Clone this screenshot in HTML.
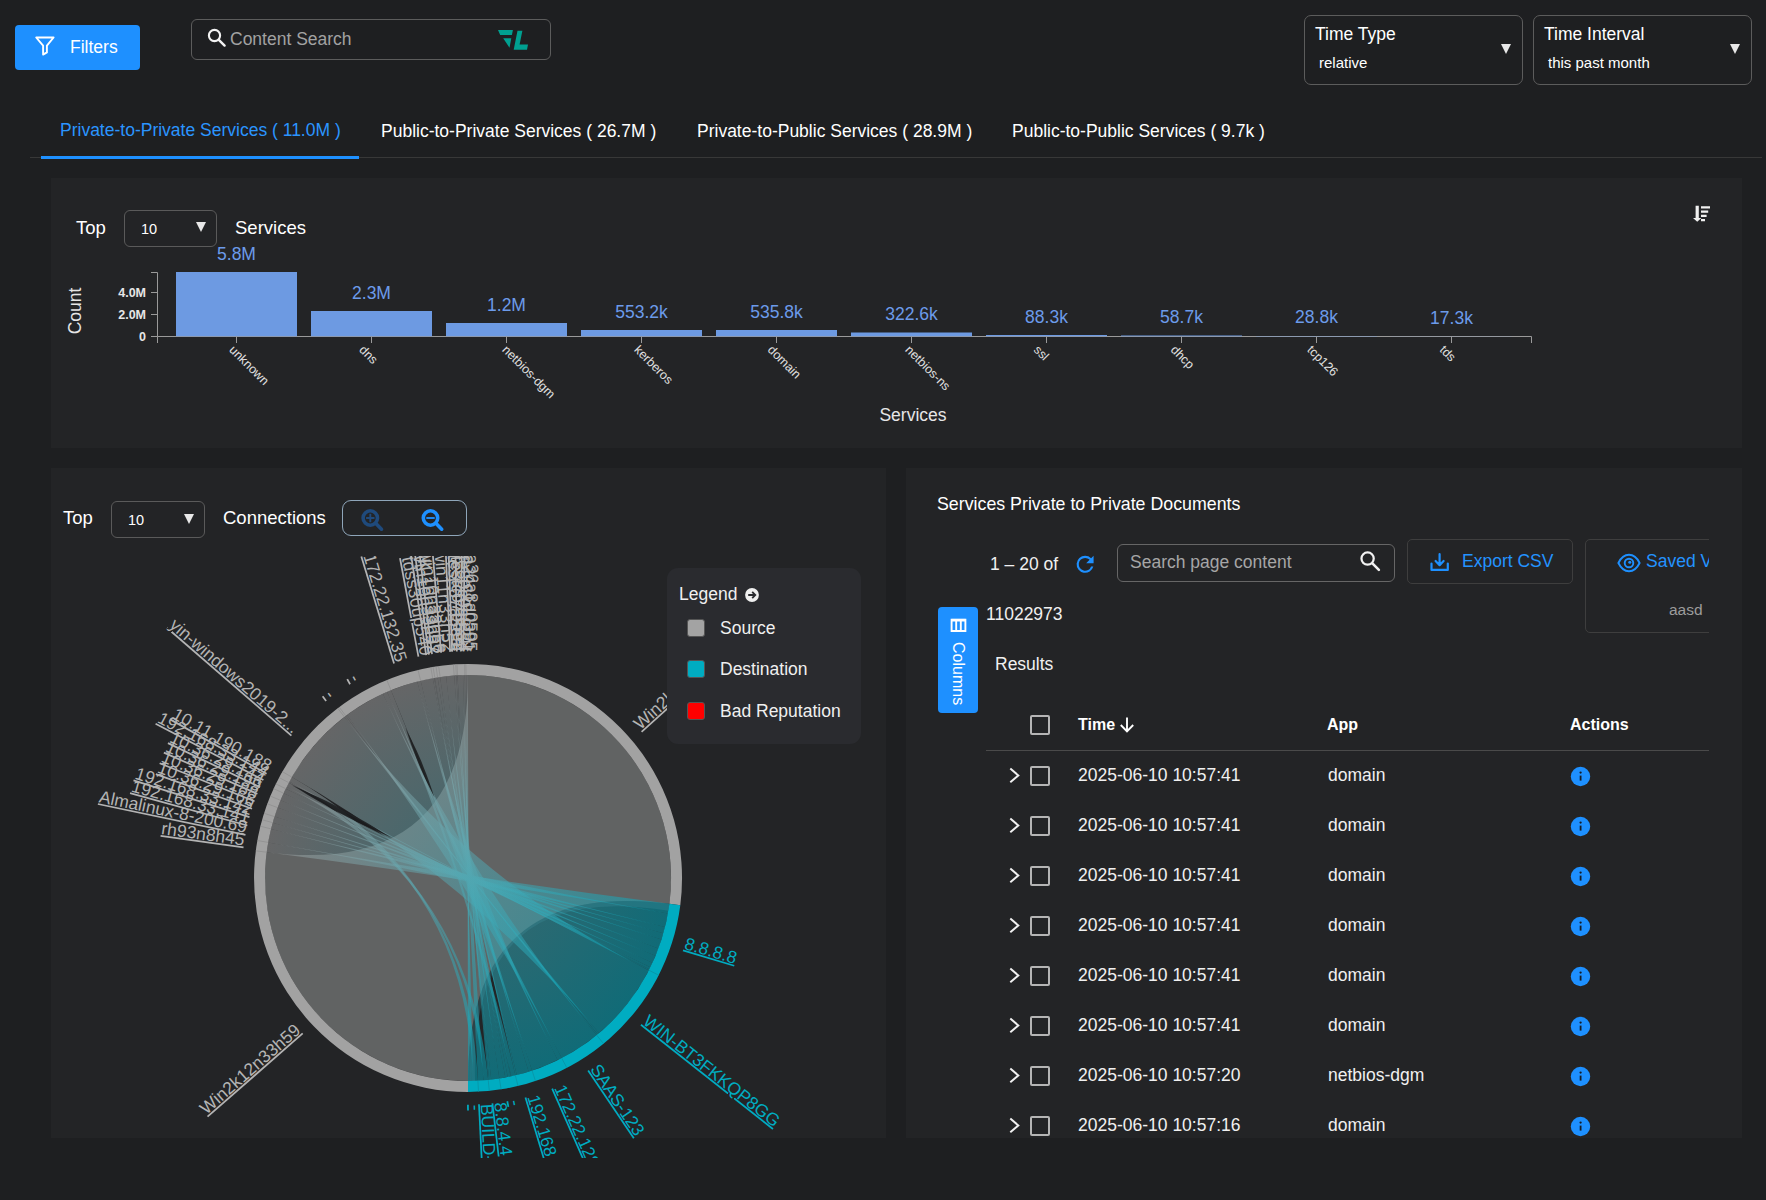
<!DOCTYPE html><html lang="en"><head><meta charset="utf-8"><title>Services</title><style>
*{box-sizing:border-box;margin:0;padding:0}
html,body{width:1766px;height:1200px;overflow:hidden;background:#1e1f21;font-family:"Liberation Sans",Arial,sans-serif;color:#fff}
.abs{position:absolute}
.t{position:absolute;white-space:nowrap;line-height:1}
.card{position:absolute;background:#232426}
.sel{position:absolute;border:1px solid #5a5a5a;border-radius:6px}
.tri{position:absolute;width:0;height:0;border-left:5px solid transparent;border-right:5px solid transparent;border-top:10px solid #e8e8e8}
.cb{position:absolute;width:20px;height:20px;border:2px solid #b5b5b5;border-radius:2px}
svg{position:absolute;overflow:visible}
svg text{font-family:"Liberation Sans",Arial,sans-serif}
</style></head><body>
<div class="abs" style="left:15px;top:25px;width:125px;height:45px;background:#1e90ff;border-radius:4px"></div>
<svg style="left:34px;top:35px" width="22" height="22" viewBox="0 0 22 22"><path d="M2.2 2.5 H19.6 L12.9 10.6 V17.4 L9.1 19.6 V10.6 Z" fill="none" stroke="#fff" stroke-width="1.9" stroke-linejoin="round"/></svg>
<div class="t" style="left:70px;top:39px;font-size:17.5px;color:#fff">Filters</div>
<div class="abs" style="left:191px;top:19px;width:360px;height:41px;border:1px solid #5c5c5c;border-radius:6px"></div>
<svg style="left:205px;top:26px" width="24" height="24" viewBox="0 0 24 24"><circle cx="9.5" cy="9.5" r="5.6" fill="none" stroke="#f2f2f2" stroke-width="2.1"/><path d="M13.8 13.8 L19.6 19.6" stroke="#f2f2f2" stroke-width="2.4" stroke-linecap="round"/></svg>
<div class="t" style="left:230px;top:31px;font-size:17.5px;color:#a2a2a2">Content Search</div>
<svg style="left:0;top:0" width="560" height="70" viewBox="0 0 560 70"><path d="M498 30.1 H512.9 L511.9 35.1 H500.2 Z M503.2 38.2 H511.3 L509.5 47.7 Z M517.5 30.7 H522.4 L519.6 44.6 H528 L527 49.7 H513.7 Z" fill="#00a090"/></svg>
<div class="abs" style="left:1304px;top:15px;width:219px;height:70px;border:1px solid #5c5c5c;border-radius:7px"></div>
<div class="t" style="left:1315px;top:26px;font-size:17.5px">Time Type</div>
<div class="t" style="left:1319px;top:55px;font-size:15px">relative</div>
<div class="tri" style="left:1501px;top:44px"></div>
<div class="abs" style="left:1533px;top:15px;width:219px;height:70px;border:1px solid #5c5c5c;border-radius:7px"></div>
<div class="t" style="left:1544px;top:26px;font-size:17.5px">Time Interval</div>
<div class="t" style="left:1548px;top:55px;font-size:15px">this past month</div>
<div class="tri" style="left:1730px;top:44px"></div>
<div class="abs" style="left:30px;top:157px;width:1732px;height:1px;background:#383838"></div>
<div class="abs" style="left:41px;top:156px;width:318px;height:2.5px;background:#1e90ff"></div>
<div class="t" style="left:60px;top:122px;font-size:17.5px;color:#2b95ff">Private-to-Private Services ( 11.0M )</div>
<div class="t" style="left:381px;top:123px;font-size:17.5px;color:#fff">Public-to-Private Services ( 26.7M )</div>
<div class="t" style="left:697px;top:123px;font-size:17.5px;color:#fff">Private-to-Public Services ( 28.9M )</div>
<div class="t" style="left:1012px;top:123px;font-size:17.5px;color:#fff">Public-to-Public Services ( 9.7k )</div>
<div class="card" style="left:51px;top:178px;width:1691px;height:270px"></div>
<div class="t" style="left:76px;top:219px;font-size:18.5px">Top</div>
<div class="sel" style="left:124px;top:210px;width:93px;height:37px"></div>
<div class="t" style="left:141px;top:222px;font-size:14.5px">10</div>
<div class="tri" style="left:196px;top:222px"></div>
<div class="t" style="left:235px;top:219px;font-size:18.5px">Services</div>
<svg style="left:0;top:0" width="1766" height="240" viewBox="0 0 1766 240"><path d="M1695.6 205.8 H1698.8 V218 H1701.4 L1697.2 221.8 L1693 218 H1695.6 Z M1701 206.2 H1710 V208.4 H1701 Z M1701 210.4 H1708.2 V212.7 H1701 Z M1701 214.7 H1706.6 V217 H1701 Z M1701 218.9 H1705 V221.3 H1701 Z" fill="#f0f0f0"/></svg>
<svg style="left:0;top:0" width="1766" height="460" viewBox="0 0 1766 460"><path d="M151 272.5 H157.5 V336.5 H151 M157.5 336.5 V343 M157.5 336.5 H1531.5 V343" fill="none" stroke="#9a9a9a" stroke-width="1"/><path d="M151 292.5 H157" stroke="#9a9a9a"/><text x="146" y="296.5" font-size="12.5" font-weight="bold" fill="#e6e6e6" text-anchor="end">4.0M</text><path d="M151 314.5 H157" stroke="#9a9a9a"/><text x="146" y="318.5" font-size="12.5" font-weight="bold" fill="#e6e6e6" text-anchor="end">2.0M</text><path d="M151 336.5 H157" stroke="#9a9a9a"/><text x="146" y="340.5" font-size="12.5" font-weight="bold" fill="#e6e6e6" text-anchor="end">0</text><text transform="translate(80.5,311) rotate(-90)" font-size="17.5" fill="#e6e6e6" text-anchor="middle">Count</text><text x="913" y="421" font-size="17.5" fill="#e6e6e6" text-anchor="middle">Services</text><rect x="176" y="272" width="121" height="64.30000000000001" fill="#6d9ae2"/><path d="M236.5 336.5 V343" stroke="#9a9a9a"/><text x="236.5" y="260" font-size="17.5" fill="#6c9bea" text-anchor="middle">5.8M</text><text transform="translate(228.5,350.5) rotate(45)" font-size="12.5" fill="#e0e0e0">unknown</text><rect x="311" y="311" width="121" height="25.30000000000001" fill="#6d9ae2"/><path d="M371.5 336.5 V343" stroke="#9a9a9a"/><text x="371.5" y="299" font-size="17.5" fill="#6c9bea" text-anchor="middle">2.3M</text><text transform="translate(358.5,350.5) rotate(45)" font-size="12.5" fill="#e0e0e0">dns</text><rect x="446" y="323" width="121" height="13.300000000000011" fill="#6d9ae2"/><path d="M506.5 336.5 V343" stroke="#9a9a9a"/><text x="506.5" y="311" font-size="17.5" fill="#6c9bea" text-anchor="middle">1.2M</text><text transform="translate(501.5,350.5) rotate(45)" font-size="12.5" fill="#e0e0e0">netbios-dgm</text><rect x="581" y="330" width="121" height="6.300000000000011" fill="#6d9ae2"/><path d="M641.5 336.5 V343" stroke="#9a9a9a"/><text x="641.5" y="318" font-size="17.5" fill="#6c9bea" text-anchor="middle">553.2k</text><text transform="translate(633.5,350.5) rotate(45)" font-size="12.5" fill="#e0e0e0">kerberos</text><rect x="716" y="330" width="121" height="6.300000000000011" fill="#6d9ae2"/><path d="M776.5 336.5 V343" stroke="#9a9a9a"/><text x="776.5" y="318" font-size="17.5" fill="#6c9bea" text-anchor="middle">535.8k</text><text transform="translate(767.0,350.5) rotate(45)" font-size="12.5" fill="#e0e0e0">domain</text><rect x="851" y="332.5" width="121" height="3.8000000000000114" fill="#6d9ae2"/><path d="M911.5 336.5 V343" stroke="#9a9a9a"/><text x="911.5" y="320" font-size="17.5" fill="#6c9bea" text-anchor="middle">322.6k</text><text transform="translate(904.5,350.5) rotate(45)" font-size="12.5" fill="#e0e0e0">netbios-ns</text><rect x="986" y="335" width="121" height="1.3000000000000114" fill="#6d9ae2"/><path d="M1046.5 336.5 V343" stroke="#9a9a9a"/><text x="1046.5" y="323" font-size="17.5" fill="#6c9bea" text-anchor="middle">88.3k</text><text transform="translate(1033.0,350.5) rotate(45)" font-size="12.5" fill="#e0e0e0">ssl</text><rect x="1121" y="335.5" width="121" height="0.8000000000000114" fill="#6d9ae2"/><path d="M1181.5 336.5 V343" stroke="#9a9a9a"/><text x="1181.5" y="323" font-size="17.5" fill="#6c9bea" text-anchor="middle">58.7k</text><text transform="translate(1170.0,350.5) rotate(45)" font-size="12.5" fill="#e0e0e0">dhcp</text><rect x="1256" y="336" width="121" height="0.30000000000001137" fill="#6d9ae2"/><path d="M1316.5 336.5 V343" stroke="#9a9a9a"/><text x="1316.5" y="323" font-size="17.5" fill="#6c9bea" text-anchor="middle">28.8k</text><text transform="translate(1306.5,350.5) rotate(45)" font-size="12.5" fill="#e0e0e0">tcp126</text><rect x="1391" y="336.2" width="121" height="0.10000000000002274" fill="#6d9ae2"/><path d="M1451.5 336.5 V343" stroke="#9a9a9a"/><text x="1451.5" y="324" font-size="17.5" fill="#6c9bea" text-anchor="middle">17.3k</text><text transform="translate(1439.0,350.5) rotate(45)" font-size="12.5" fill="#e0e0e0">tds</text></svg>
<div class="card" style="left:51px;top:468px;width:835px;height:670px"></div>
<div class="t" style="left:63px;top:509px;font-size:18.5px">Top</div>
<div class="sel" style="left:111px;top:501px;width:94px;height:37px"></div>
<div class="t" style="left:128px;top:513px;font-size:14.5px">10</div>
<div class="tri" style="left:184px;top:514px"></div>
<div class="t" style="left:223px;top:509px;font-size:18.5px">Connections</div>
<div class="abs" style="left:342px;top:500px;width:125px;height:36px;border:1px solid #8fa6ba;border-radius:9px"></div>
<svg style="left:0;top:0" width="500" height="560" viewBox="0 0 500 560"><circle cx="370.3" cy="518" r="7.2" fill="none" stroke="#1f4a7c" stroke-width="3.6"/><path d="M375.90000000000003 523.6 L381.5 529.2" stroke="#1f4a7c" stroke-width="3.6" stroke-linecap="round"/><path d="M366.1 518 H374.5 M370.3 513.8 V522.2" stroke="#1f4a7c" stroke-width="1.9"/></svg>
<svg style="left:0;top:0" width="500" height="560" viewBox="0 0 500 560"><circle cx="430.5" cy="518" r="7.2" fill="none" stroke="#1e90ff" stroke-width="3.6"/><path d="M436.1 523.6 L441.7 529.2" stroke="#1e90ff" stroke-width="3.6" stroke-linecap="round"/><path d="M426.3 518 H434.7" stroke="#1e90ff" stroke-width="1.9"/></svg>
<svg style="left:0;top:0" width="1766" height="1200" viewBox="0 0 1766 1200"><defs><clipPath id="cclip"><rect x="51" y="556" width="835" height="602"/></clipPath><linearGradient id="gd" gradientUnits="userSpaceOnUse" x1="332.2" y1="727.1" x2="603.8" y2="1028.9"><stop offset="0" stop-color="#a2a2a2"/><stop offset="1" stop-color="#00acc1"/></linearGradient><linearGradient id="gs" gradientUnits="userSpaceOnUse" x1="332.2" y1="727.1" x2="603.8" y2="1028.9"><stop offset="0" stop-color="#b8c4c6"/><stop offset="0.5" stop-color="#4fb7c8"/><stop offset="1" stop-color="#19b4c9"/></linearGradient></defs><g clip-path="url(#cclip)"><path d="M468 675A203 203 0 0 1 669.4 903.8Q468 878 468 1081A203 203 0 0 1 266.6 852.2Q468 878 468 675Z" fill="#9fa2a0" fill-opacity="0.5"/><defs><linearGradient id="g0" gradientUnits="userSpaceOnUse" x1="267.3" y1="847.3" x2="662" y2="937.9"><stop offset="0" stop-color="#a2a2a2"/><stop offset="1" stop-color="#00acc1"/></linearGradient><linearGradient id="g1" gradientUnits="userSpaceOnUse" x1="269.5" y1="835.6" x2="662" y2="937.9"><stop offset="0" stop-color="#a2a2a2"/><stop offset="1" stop-color="#00acc1"/></linearGradient><linearGradient id="g2" gradientUnits="userSpaceOnUse" x1="271.8" y1="825.8" x2="662" y2="937.9"><stop offset="0" stop-color="#a2a2a2"/><stop offset="1" stop-color="#00acc1"/></linearGradient><linearGradient id="g3" gradientUnits="userSpaceOnUse" x1="273.6" y1="819.7" x2="662" y2="937.9"><stop offset="0" stop-color="#a2a2a2"/><stop offset="1" stop-color="#00acc1"/></linearGradient><linearGradient id="g4" gradientUnits="userSpaceOnUse" x1="276" y1="812.1" x2="662" y2="937.9"><stop offset="0" stop-color="#a2a2a2"/><stop offset="1" stop-color="#00acc1"/></linearGradient><linearGradient id="g5" gradientUnits="userSpaceOnUse" x1="279" y1="803.9" x2="662" y2="937.9"><stop offset="0" stop-color="#a2a2a2"/><stop offset="1" stop-color="#00acc1"/></linearGradient><linearGradient id="g6" gradientUnits="userSpaceOnUse" x1="282" y1="796.7" x2="662" y2="937.9"><stop offset="0" stop-color="#a2a2a2"/><stop offset="1" stop-color="#00acc1"/></linearGradient><linearGradient id="g7" gradientUnits="userSpaceOnUse" x1="284.6" y1="790.9" x2="662" y2="937.9"><stop offset="0" stop-color="#a2a2a2"/><stop offset="1" stop-color="#00acc1"/></linearGradient><linearGradient id="g8" gradientUnits="userSpaceOnUse" x1="287.2" y1="785.7" x2="662" y2="937.9"><stop offset="0" stop-color="#a2a2a2"/><stop offset="1" stop-color="#00acc1"/></linearGradient><linearGradient id="g9" gradientUnits="userSpaceOnUse" x1="287.2" y1="785.7" x2="483" y2="1080.4"><stop offset="0" stop-color="#a2a2a2"/><stop offset="1" stop-color="#00acc1"/></linearGradient><linearGradient id="g10" gradientUnits="userSpaceOnUse" x1="290.3" y1="779.9" x2="662" y2="937.9"><stop offset="0" stop-color="#a2a2a2"/><stop offset="1" stop-color="#00acc1"/></linearGradient><linearGradient id="g11" gradientUnits="userSpaceOnUse" x1="290.3" y1="779.9" x2="626.1" y2="1005.3"><stop offset="0" stop-color="#a2a2a2"/><stop offset="1" stop-color="#00acc1"/></linearGradient><linearGradient id="g12" gradientUnits="userSpaceOnUse" x1="290.3" y1="779.9" x2="473" y2="1080.9"><stop offset="0" stop-color="#a2a2a2"/><stop offset="1" stop-color="#00acc1"/></linearGradient><linearGradient id="g13" gradientUnits="userSpaceOnUse" x1="315.1" y1="744.4" x2="626.1" y2="1005.3"><stop offset="0" stop-color="#a2a2a2"/><stop offset="1" stop-color="#00acc1"/></linearGradient><linearGradient id="g14" gradientUnits="userSpaceOnUse" x1="345.1" y1="716.4" x2="626.1" y2="1005.3"><stop offset="0" stop-color="#a2a2a2"/><stop offset="1" stop-color="#00acc1"/></linearGradient><linearGradient id="g15" gradientUnits="userSpaceOnUse" x1="367.6" y1="701.6" x2="626.1" y2="1005.3"><stop offset="0" stop-color="#a2a2a2"/><stop offset="1" stop-color="#00acc1"/></linearGradient><linearGradient id="g16" gradientUnits="userSpaceOnUse" x1="367.6" y1="701.6" x2="579.7" y2="1047.5"><stop offset="0" stop-color="#a2a2a2"/><stop offset="1" stop-color="#00acc1"/></linearGradient><linearGradient id="g17" gradientUnits="userSpaceOnUse" x1="367.6" y1="701.6" x2="547.2" y2="1064.9"><stop offset="0" stop-color="#a2a2a2"/><stop offset="1" stop-color="#00acc1"/></linearGradient><linearGradient id="g18" gradientUnits="userSpaceOnUse" x1="367.6" y1="701.6" x2="507.4" y2="1077.1"><stop offset="0" stop-color="#a2a2a2"/><stop offset="1" stop-color="#00acc1"/></linearGradient><linearGradient id="g19" gradientUnits="userSpaceOnUse" x1="405.6" y1="684.8" x2="547.2" y2="1064.9"><stop offset="0" stop-color="#a2a2a2"/><stop offset="1" stop-color="#00acc1"/></linearGradient><linearGradient id="g20" gradientUnits="userSpaceOnUse" x1="405.6" y1="684.8" x2="523.8" y2="1073.2"><stop offset="0" stop-color="#a2a2a2"/><stop offset="1" stop-color="#00acc1"/></linearGradient><linearGradient id="g21" gradientUnits="userSpaceOnUse" x1="426.7" y1="679.3" x2="523.8" y2="1073.2"><stop offset="0" stop-color="#a2a2a2"/><stop offset="1" stop-color="#00acc1"/></linearGradient><linearGradient id="g22" gradientUnits="userSpaceOnUse" x1="433.8" y1="677.9" x2="523.8" y2="1073.2"><stop offset="0" stop-color="#a2a2a2"/><stop offset="1" stop-color="#00acc1"/></linearGradient><linearGradient id="g23" gradientUnits="userSpaceOnUse" x1="433.8" y1="677.9" x2="507.4" y2="1077.1"><stop offset="0" stop-color="#a2a2a2"/><stop offset="1" stop-color="#00acc1"/></linearGradient><linearGradient id="g24" gradientUnits="userSpaceOnUse" x1="436.2" y1="677.5" x2="507.4" y2="1077.1"><stop offset="0" stop-color="#a2a2a2"/><stop offset="1" stop-color="#00acc1"/></linearGradient><linearGradient id="g25" gradientUnits="userSpaceOnUse" x1="438.9" y1="677.1" x2="507.4" y2="1077.1"><stop offset="0" stop-color="#a2a2a2"/><stop offset="1" stop-color="#00acc1"/></linearGradient><linearGradient id="g26" gradientUnits="userSpaceOnUse" x1="447.1" y1="676.1" x2="507.4" y2="1077.1"><stop offset="0" stop-color="#a2a2a2"/><stop offset="1" stop-color="#00acc1"/></linearGradient><linearGradient id="g27" gradientUnits="userSpaceOnUse" x1="447.1" y1="676.1" x2="493.8" y2="1079.4"><stop offset="0" stop-color="#a2a2a2"/><stop offset="1" stop-color="#00acc1"/></linearGradient><linearGradient id="g28" gradientUnits="userSpaceOnUse" x1="455.3" y1="675.4" x2="493.8" y2="1079.4"><stop offset="0" stop-color="#a2a2a2"/><stop offset="1" stop-color="#00acc1"/></linearGradient><linearGradient id="g29" gradientUnits="userSpaceOnUse" x1="456.9" y1="675.3" x2="493.8" y2="1079.4"><stop offset="0" stop-color="#a2a2a2"/><stop offset="1" stop-color="#00acc1"/></linearGradient><linearGradient id="g30" gradientUnits="userSpaceOnUse" x1="456.9" y1="675.3" x2="483" y2="1080.4"><stop offset="0" stop-color="#a2a2a2"/><stop offset="1" stop-color="#00acc1"/></linearGradient><linearGradient id="g31" gradientUnits="userSpaceOnUse" x1="461.2" y1="675.1" x2="483" y2="1080.4"><stop offset="0" stop-color="#a2a2a2"/><stop offset="1" stop-color="#00acc1"/></linearGradient><linearGradient id="g32" gradientUnits="userSpaceOnUse" x1="461.2" y1="675.1" x2="473" y2="1080.9"><stop offset="0" stop-color="#a2a2a2"/><stop offset="1" stop-color="#00acc1"/></linearGradient><linearGradient id="g33" gradientUnits="userSpaceOnUse" x1="465.4" y1="675" x2="473" y2="1080.9"><stop offset="0" stop-color="#a2a2a2"/><stop offset="1" stop-color="#00acc1"/></linearGradient><linearGradient id="g34" gradientUnits="userSpaceOnUse" x1="467" y1="675" x2="473" y2="1080.9"><stop offset="0" stop-color="#a2a2a2"/><stop offset="1" stop-color="#00acc1"/></linearGradient></defs><path d="M266.6 852.2A203 203 0 0 1 268.1 842.4Q468 878 669.4 903.8A203 203 0 0 1 667.9 913.6Q468 878 266.6 852.2Z" fill="url(#g0)" fill-opacity="0.52"/><path d="M268.1 842.4A203 203 0 0 1 271 828.9Q468 878 667.9 913.6A203 203 0 0 1 665 927.1Q468 878 268.1 842.4Z" fill="url(#g1)" fill-opacity="0.52"/><path d="M271 828.9A203 203 0 0 1 272.7 822.7Q468 878 665 927.1A203 203 0 0 1 663.3 933.3Q468 878 271 828.9Z" fill="url(#g2)" fill-opacity="0.52"/><path d="M272.7 822.7A203 203 0 0 1 274.5 816.6Q468 878 663.3 933.3A203 203 0 0 1 661.5 939.4Q468 878 272.7 822.7Z" fill="url(#g3)" fill-opacity="0.52"/><path d="M274.5 816.6A203 203 0 0 1 277.6 807.6Q468 878 661.5 939.4A203 203 0 0 1 658.4 948.4Q468 878 274.5 816.6Z" fill="url(#g4)" fill-opacity="0.52"/><path d="M277.6 807.6A203 203 0 0 1 280.5 800.3Q468 878 658.4 948.4A203 203 0 0 1 655.5 955.7Q468 878 277.6 807.6Z" fill="url(#g5)" fill-opacity="0.52"/><path d="M280.5 800.3A203 203 0 0 1 283.6 793.2Q468 878 655.5 955.7A203 203 0 0 1 652.4 962.8Q468 878 280.5 800.3Z" fill="url(#g6)" fill-opacity="0.52"/><path d="M283.6 793.2A203 203 0 0 1 285.7 788.7Q468 878 652.4 962.8A203 203 0 0 1 650.3 967.3Q468 878 283.6 793.2Z" fill="url(#g7)" fill-opacity="0.52"/><path d="M285.7 788.7A203 203 0 0 1 286.6 786.8Q468 878 650.3 967.3A203 203 0 0 1 649.4 969.2Q468 878 285.7 788.7Z" fill="url(#g8)" fill-opacity="0.52"/><path d="M286.6 786.8A203 203 0 0 1 288.8 782.7Q468 878 488.2 1080A203 203 0 0 1 483.6 1080.4Q468 878 286.6 786.8Z" fill="url(#g9)" fill-opacity="0.52"/><path d="M288.8 782.7A203 203 0 0 1 289.3 781.8Q468 878 649.4 969.2A203 203 0 0 1 648.9 970.2Q468 878 288.8 782.7Z" fill="url(#g10)" fill-opacity="0.52"/><path d="M289.3 781.8A203 203 0 0 1 289.4 781.4Q468 878 648.9 970.2A203 203 0 0 1 648.7 970.5Q468 878 289.3 781.8Z" fill="url(#g11)" fill-opacity="0.52"/><path d="M289.4 781.4A203 203 0 0 1 291.8 777.1Q468 878 477.9 1080.8A203 203 0 0 1 473 1080.9Q468 878 289.4 781.4Z" fill="url(#g12)" fill-opacity="0.52"/><path d="M291.8 777.1A203 203 0 0 1 344.4 716.9Q468 878 648.7 970.5A203 203 0 0 1 599 1033.1Q468 878 291.8 777.1Z" fill="url(#g13)" fill-opacity="0.52"/><path d="M344.4 716.9A203 203 0 0 1 345.8 715.9Q468 878 599 1033.1A203 203 0 0 1 597.7 1034.2Q468 878 344.4 716.9Z" fill="url(#g14)" fill-opacity="0.52"/><path d="M345.8 715.9A203 203 0 0 1 347 715Q468 878 597.7 1034.2A203 203 0 0 1 596.6 1035.1Q468 878 345.8 715.9Z" fill="url(#g15)" fill-opacity="0.52"/><path d="M347 715A203 203 0 0 1 382.9 693.7Q468 878 596.6 1035.1A203 203 0 0 1 561.7 1058.1Q468 878 347 715Z" fill="url(#g16)" fill-opacity="0.52"/><path d="M382.9 693.7A203 203 0 0 1 387.1 691.8Q468 878 561.7 1058.1A203 203 0 0 1 557.6 1060.1Q468 878 382.9 693.7Z" fill="url(#g17)" fill-opacity="0.52"/><path d="M387.1 691.8A203 203 0 0 1 391 690.2Q468 878 515.4 1075.4A203 203 0 0 1 511.2 1076.3Q468 878 387.1 691.8Z" fill="url(#g18)" fill-opacity="0.52"/><path d="M391 690.2A203 203 0 0 1 417.2 681.5Q468 878 557.6 1060.1A203 203 0 0 1 532.1 1070.6Q468 878 391 690.2Z" fill="url(#g19)" fill-opacity="0.52"/><path d="M417.2 681.5A203 203 0 0 1 420.6 680.6Q468 878 532.1 1070.6A203 203 0 0 1 528.7 1071.7Q468 878 417.2 681.5Z" fill="url(#g20)" fill-opacity="0.52"/><path d="M420.6 680.6A203 203 0 0 1 432.7 678.1Q468 878 528.7 1071.7A203 203 0 0 1 516.8 1075.1Q468 878 420.6 680.6Z" fill="url(#g21)" fill-opacity="0.52"/><path d="M432.7 678.1A203 203 0 0 1 434.1 677.8Q468 878 516.8 1075.1A203 203 0 0 1 515.4 1075.4Q468 878 432.7 678.1Z" fill="url(#g22)" fill-opacity="0.52"/><path d="M434.1 677.8A203 203 0 0 1 434.8 677.7Q468 878 511.2 1076.3A203 203 0 0 1 510.6 1076.5Q468 878 434.1 677.8Z" fill="url(#g23)" fill-opacity="0.52"/><path d="M434.8 677.7A203 203 0 0 1 437.6 677.3Q468 878 510.6 1076.5A203 203 0 0 1 507.8 1077.1Q468 878 434.8 677.7Z" fill="url(#g24)" fill-opacity="0.52"/><path d="M437.6 677.3A203 203 0 0 1 440.1 676.9Q468 878 507.8 1077.1A203 203 0 0 1 505.3 1077.5Q468 878 437.6 677.3Z" fill="url(#g25)" fill-opacity="0.52"/><path d="M440.1 676.9A203 203 0 0 1 446.1 676.2Q468 878 505.3 1077.5A203 203 0 0 1 499.4 1078.6Q468 878 440.1 676.9Z" fill="url(#g26)" fill-opacity="0.52"/><path d="M446.1 676.2A203 203 0 0 1 454.2 675.5Q468 878 499.4 1078.6A203 203 0 0 1 491.3 1079.7Q468 878 446.1 676.2Z" fill="url(#g27)" fill-opacity="0.52"/><path d="M454.2 675.5A203 203 0 0 1 456.3 675.3Q468 878 491.3 1079.7A203 203 0 0 1 489.2 1079.9Q468 878 454.2 675.5Z" fill="url(#g28)" fill-opacity="0.52"/><path d="M456.3 675.3A203 203 0 0 1 457.4 675.3Q468 878 489.2 1079.9A203 203 0 0 1 488.2 1080Q468 878 456.3 675.3Z" fill="url(#g29)" fill-opacity="0.52"/><path d="M457.4 675.3A203 203 0 0 1 457.6 675.3Q468 878 483.6 1080.4A203 203 0 0 1 483.4 1080.4Q468 878 457.4 675.3Z" fill="url(#g30)" fill-opacity="0.52"/><path d="M457.6 675.3A203 203 0 0 1 463 675.1Q468 878 483.4 1080.4A203 203 0 0 1 477.9 1080.8Q468 878 457.6 675.3Z" fill="url(#g31)" fill-opacity="0.52"/><path d="M463 675.1A203 203 0 0 1 464.8 675Q468 878 473 1080.9A203 203 0 0 1 471.2 1081Q468 878 463 675.1Z" fill="url(#g32)" fill-opacity="0.52"/><path d="M464.8 675A203 203 0 0 1 466.1 675Q468 878 471.2 1081A203 203 0 0 1 469.9 1081Q468 878 464.8 675Z" fill="url(#g33)" fill-opacity="0.52"/><path d="M466.1 675A203 203 0 0 1 468 675Q468 878 469.9 1081A203 203 0 0 1 468 1081Q468 878 466.1 675Z" fill="url(#g34)" fill-opacity="0.52"/><path d="M669.4 903.8A203 203 0 0 1 668.3 910.8Q468 878 475.1 1080.9A203 203 0 0 1 468 1081Q468 878 669.4 903.8Z" fill="#3f8f9c" fill-opacity="0.3"/><path d="M292 785.2L300 790.1L307.9 794.9L316 799.7L324 804.3L332.1 808.9L340.3 813.3L348.6 817.6L356.9 821.7L365.3 825.7L373.8 829.6L382.3 833.5L390.8 837.3L390.8 837.3L382.8 832.4L374.9 827.6L366.9 822.8L358.8 818.2L350.7 813.6L342.5 809.2L334.2 804.9L325.9 800.8L317.5 796.8L309 792.9L300.5 789L292 785.2Z" fill="#1b1c1e" fill-opacity="0.9"/><path d="M405.6 728.1L407.6 734L409.6 740L411.7 745.9L413.9 751.8L416.1 757.6L418.5 763.4L420.9 769.2L423.5 774.9L426.1 780.5L428.9 786.2L431.6 791.8L434.5 797.4L434.5 797.4L432.5 791.5L430.4 785.5L428.3 779.6L426.2 773.7L423.9 767.9L421.6 762.1L419.1 756.3L416.6 750.6L413.9 744.9L411.2 739.3L408.4 733.7L405.6 728.1Z" fill="#1b1c1e" fill-opacity="0.88"/><path d="M468 1092A214 214 0 1 1 680.3 905.2L669.4 903.8A203 203 0 1 0 468 1081Z" fill="#a2a2a2"/><path d="M680.3 905.2A214 214 0 0 1 468 1092L468 1081A203 203 0 0 0 669.4 903.8Z" fill="#00acc1"/><path d="M266.6 852.2L255.7 850.8" stroke="#8a8a8a" stroke-width="0.6"/><path d="M268.1 842.4L257.3 840.5" stroke="#8a8a8a" stroke-width="0.6"/><path d="M271 828.9L260.4 826.2" stroke="#8a8a8a" stroke-width="0.6"/><path d="M272.7 822.7L262.1 819.7" stroke="#8a8a8a" stroke-width="0.6"/><path d="M274.5 816.6L264 813.3" stroke="#8a8a8a" stroke-width="0.6"/><path d="M277.6 807.6L267.3 803.8" stroke="#8a8a8a" stroke-width="0.6"/><path d="M280.5 800.3L270.3 796.1" stroke="#8a8a8a" stroke-width="0.6"/><path d="M283.6 793.2L273.6 788.6" stroke="#8a8a8a" stroke-width="0.6"/><path d="M285.7 788.7L275.8 783.9" stroke="#8a8a8a" stroke-width="0.6"/><path d="M288.8 782.7L279 777.5" stroke="#8a8a8a" stroke-width="0.6"/><path d="M291.8 777.1L282.3 771.6" stroke="#8a8a8a" stroke-width="0.6"/><path d="M344.4 716.9L337.7 708.2" stroke="#8a8a8a" stroke-width="0.6"/><path d="M345.8 715.9L339.2 707.1" stroke="#8a8a8a" stroke-width="0.6"/><path d="M391 690.2L386.8 680" stroke="#8a8a8a" stroke-width="0.6"/><path d="M420.6 680.6L418 669.9" stroke="#8a8a8a" stroke-width="0.6"/><path d="M432.7 678.1L430.8 667.3" stroke="#8a8a8a" stroke-width="0.6"/><path d="M434.8 677.7L433 666.9" stroke="#8a8a8a" stroke-width="0.6"/><path d="M437.6 677.3L436 666.4" stroke="#8a8a8a" stroke-width="0.6"/><path d="M440.1 676.9L438.6 666" stroke="#8a8a8a" stroke-width="0.6"/><path d="M454.2 675.5L453.4 664.5" stroke="#8a8a8a" stroke-width="0.6"/><path d="M456.3 675.3L455.7 664.4" stroke="#8a8a8a" stroke-width="0.6"/><path d="M457.6 675.3L457 664.3" stroke="#8a8a8a" stroke-width="0.6"/><path d="M464.8 675L464.6 664" stroke="#8a8a8a" stroke-width="0.6"/><path d="M466.1 675L465.9 664" stroke="#8a8a8a" stroke-width="0.6"/><path d="M648.9 970.2L658.7 975.2" stroke="#0a8fa1" stroke-width="0.7"/><path d="M596.6 1035.1L603.5 1043.6" stroke="#0a8fa1" stroke-width="0.7"/><path d="M561.7 1058.1L566.8 1067.8" stroke="#0a8fa1" stroke-width="0.7"/><path d="M532.1 1070.6L535.5 1081.1" stroke="#0a8fa1" stroke-width="0.7"/><path d="M515.4 1075.4L518 1086.1" stroke="#0a8fa1" stroke-width="0.7"/><path d="M499.4 1078.6L501.1 1089.4" stroke="#0a8fa1" stroke-width="0.7"/><path d="M488.2 1080L489.3 1090.9" stroke="#0a8fa1" stroke-width="0.7"/><path d="M477.9 1080.8L478.5 1091.7" stroke="#0a8fa1" stroke-width="0.7"/><text transform="rotate(-42.1 468 878) translate(694.7 878)" dy="0.35em" font-size="17.5" fill="#b4b4b4" text-decoration="underline">Win2k12n33h58</text><text transform="rotate(138.8 468 878) translate(694.7 878) rotate(180)" dy="0.35em" font-size="17.5" fill="#b4b4b4" text-decoration="underline" text-anchor="end">Win2k12n33h59</text><text transform="rotate(16.6 468 878) translate(694.7 878)" dy="0.35em" font-size="17.5" fill="#00acc1" text-decoration="underline">8.8.8.8</text><text transform="rotate(38.3 468 878) translate(694.7 878)" dy="0.35em" font-size="17.5" fill="#00acc1" text-decoration="underline">WIN-BT3FKKQP8GG</text><text transform="rotate(56 468 878) translate(694.7 878)" dy="0.35em" font-size="17.5" fill="#00acc1" text-decoration="underline">SAAS-123</text><text transform="rotate(66.2 468 878) translate(694.7 878)" dy="0.35em" font-size="17.5" fill="#00acc1" text-decoration="underline">172.22.128.20</text><text transform="rotate(73.3 468 878) translate(694.7 878)" dy="0.35em" font-size="17.5" fill="#00acc1" text-decoration="underline">192.168.33.1</text><text transform="rotate(78 468 878) translate(694.7 878) rotate(1.3)" dy="0.35em" font-size="17.5" fill="#00acc1" text-decoration="underline">-</text><text transform="rotate(81.8 468 878) translate(694.7 878) rotate(1.45)" dy="0.35em" font-size="17.5" fill="#00acc1" text-decoration="underline">8.8.4.4</text><text transform="rotate(85.2 468 878) translate(694.7 878) rotate(1.95)" dy="0.35em" font-size="17.5" fill="#00acc1" text-decoration="underline">BUILD-SRV01</text><text transform="rotate(88 468 878) translate(694.7 878) rotate(1.0)" dy="0.35em" font-size="17.5" fill="#00acc1" text-decoration="underline">-</text><text transform="rotate(189.8 468 878) translate(694.7 878) rotate(178)" dy="0.35em" font-size="17.5" fill="#b4b4b4" text-decoration="underline" text-anchor="end">rh93n8h45</text><text transform="rotate(193 468 878) translate(694.7 878) rotate(178.8)" dy="0.35em" font-size="17.5" fill="#b4b4b4" text-decoration="underline" text-anchor="end">Almalinux-8-200.69</text><text transform="rotate(195.4 468 878) translate(694.7 878) rotate(180)" dy="0.35em" font-size="17.5" fill="#b4b4b4" text-decoration="underline" text-anchor="end">192.168.33.141</text><text transform="rotate(197.6 468 878) translate(694.7 878) rotate(180)" dy="0.35em" font-size="17.5" fill="#b4b4b4" text-decoration="underline" text-anchor="end">192.168.33.142</text><text transform="rotate(199.8 468 878) translate(694.7 878) rotate(180)" dy="0.35em" font-size="17.5" fill="#b4b4b4" text-decoration="underline" text-anchor="end">10.36.29.166</text><text transform="rotate(201.8 468 878) translate(694.7 878) rotate(180)" dy="0.35em" font-size="17.5" fill="#b4b4b4" text-decoration="underline" text-anchor="end">10.36.29.188</text><text transform="rotate(203.8 468 878) translate(694.7 878) rotate(180)" dy="0.35em" font-size="17.5" fill="#b4b4b4" text-decoration="underline" text-anchor="end">10.36.29.199</text><text transform="rotate(205.6 468 878) translate(694.7 878) rotate(180)" dy="0.35em" font-size="17.5" fill="#b4b4b4" text-decoration="underline" text-anchor="end">10.36.29.144</text><text transform="rotate(207.6 468 878) translate(694.7 878) rotate(180)" dy="0.35em" font-size="17.5" fill="#b4b4b4" text-decoration="underline" text-anchor="end">192.168.33.144</text><text transform="rotate(209.4 468 878) translate(694.7 878) rotate(180)" dy="0.35em" font-size="17.5" fill="#b4b4b4" text-decoration="underline" text-anchor="end">10.11.190.188</text><text transform="rotate(220.9 468 878) translate(694.7 878) rotate(180)" dy="0.35em" font-size="17.5" fill="#b4b4b4" text-decoration="underline" text-anchor="end">yin-windows2019-2...</text><text transform="rotate(233.3 468 878) translate(694.7 878) rotate(180)" dy="0.35em" font-size="17.5" fill="#b4b4b4" text-decoration="underline" text-anchor="end">-</text><text transform="rotate(240.7 468 878) translate(694.7 878) rotate(180)" dy="0.35em" font-size="17.5" fill="#b4b4b4" text-decoration="underline" text-anchor="end">-</text><text transform="rotate(253 468 878) translate(694.7 878) rotate(180)" dy="0.35em" font-size="17.5" fill="#b4b4b4" text-decoration="underline" text-anchor="end">172.22.132.35</text><text transform="rotate(259.4 468 878) translate(694.7 878) rotate(180)" dy="0.35em" font-size="17.5" fill="#b4b4b4" text-decoration="underline" text-anchor="end">tdss30up540</text><text transform="rotate(261.4 468 878) translate(694.7 878) rotate(180)" dy="0.35em" font-size="17.5" fill="#b4b4b4" text-decoration="underline" text-anchor="end">Win10n33h52</text><text transform="rotate(262.1 468 878) translate(694.7 878) rotate(180)" dy="0.35em" font-size="17.5" fill="#b4b4b4" text-decoration="underline" text-anchor="end">MK-16n33h57</text><text transform="rotate(262.9 468 878) translate(694.7 878) rotate(180)" dy="0.35em" font-size="17.5" fill="#b4b4b4" text-decoration="underline" text-anchor="end">win10n33h56</text><text transform="rotate(265.2 468 878) translate(694.7 878) rotate(180)" dy="0.35em" font-size="17.5" fill="#b4b4b4" text-decoration="underline" text-anchor="end">win11n33h52</text><text transform="rotate(267.5 468 878) translate(694.7 878) rotate(180)" dy="0.35em" font-size="17.5" fill="#b4b4b4" text-decoration="underline" text-anchor="end">test-07a5e9f</text><text transform="rotate(268 468 878) translate(694.7 878) rotate(180)" dy="0.35em" font-size="17.5" fill="#b4b4b4" text-decoration="underline" text-anchor="end">testc07b5e2</text><text transform="rotate(269.2 468 878) translate(694.7 878) rotate(180)" dy="0.35em" font-size="17.5" fill="#b4b4b4" text-decoration="underline" text-anchor="end">fe80c0a821f</text><text transform="rotate(270.3 468 878) translate(694.7 878) rotate(180)" dy="0.35em" font-size="17.5" fill="#b4b4b4" text-decoration="underline" text-anchor="end">0a24c1d0391</text><text transform="rotate(270.8 468 878) translate(694.7 878) rotate(180)" dy="0.35em" font-size="17.5" fill="#b4b4b4" text-decoration="underline" text-anchor="end">0a36a8a0595</text></g></svg>
<div class="abs" style="left:667px;top:568px;width:194px;height:176px;background:#2a2b2f;border-radius:11px"></div>
<div class="t" style="left:679px;top:586px;font-size:17.5px;color:#f0f0f0">Legend</div>
<svg style="left:744px;top:587px" width="16" height="16" viewBox="0 0 16 16"><circle cx="8" cy="8" r="6.9" fill="#f0f0f0"/><path d="M4.2 8 H11 M8.2 4.9 L11.3 8 L8.2 11.1" fill="none" stroke="#2a2b2f" stroke-width="1.8"/></svg>
<div class="abs" style="left:687px;top:619px;width:18px;height:18px;background:#a3a3a3;border:1px solid #555;border-radius:3px"></div>
<div class="t" style="left:720px;top:620px;font-size:17.5px;color:#f0f0f0">Source</div>
<div class="abs" style="left:687px;top:660px;width:18px;height:18px;background:#00acc1;border:1px solid #555;border-radius:3px"></div>
<div class="t" style="left:720px;top:661px;font-size:17.5px;color:#f0f0f0">Destination</div>
<div class="abs" style="left:687px;top:702px;width:18px;height:18px;background:#ff0000;border:1px solid #555;border-radius:3px"></div>
<div class="t" style="left:720px;top:703px;font-size:17.5px;color:#f0f0f0">Bad Reputation</div>
<div class="card" style="left:906px;top:468px;width:836px;height:670px"></div>
<div class="abs" style="left:906px;top:468px;width:803px;height:670px;overflow:hidden">
<div class="t" style="left:31px;top:28px;font-size:17.8px;color:#fff;">Services Private to Private Documents</div>
<div class="t" style="left:84px;top:88px;font-size:17.5px;color:#f0f0f0;">1 – 20 of</div>
<svg style="left:167px;top:85px" width="24" height="24" viewBox="0 0 24 24"><path d="M17.65 6.35A7.95 7.95 0 0 0 12 4a8 8 0 1 0 7.73 10h-2.08A6 6 0 1 1 12 6c1.66 0 3.14.69 4.22 1.78L13 11h7V4l-2.35 2.35z" fill="#1e90ff" transform="translate(-0.6,-1.4) scale(1.06)"/></svg>
<div class="abs" style="left:211px;top:76px;width:278px;height:38px;border:1px solid #666;border-radius:6px"></div>
<div class="t" style="left:224px;top:86px;font-size:17.5px;color:#a6a6a6;">Search page content</div>
<svg style="left:450.5999999999999px;top:79.60000000000002px" width="26" height="26" viewBox="0 0 24 24"><g transform="scale(1.03)"><circle cx="9.5" cy="9.5" r="5.5" fill="none" stroke="#f2f2f2" stroke-width="2"/><path d="M13.8 13.8 L19.6 19.6" stroke="#f2f2f2" stroke-width="2.3" stroke-linecap="round"/></g></svg>
<div class="abs" style="left:501px;top:71px;width:166px;height:45px;border:1px solid #3e3e3e;border-radius:5px"></div>
<svg style="left:523px;top:84px" width="22" height="22" viewBox="0 0 22 22"><path d="M2.5 11.5 V17.9 H18.8 V11.5" fill="none" stroke="#1e90ff" stroke-width="2.2" stroke-linejoin="round" stroke-linecap="round"/><path d="M10.6 2.2 V12.6 M6.6 9 L10.6 13.2 L14.6 9" fill="none" stroke="#1e90ff" stroke-width="2.2" stroke-linecap="round" stroke-linejoin="round"/></svg>
<div class="t" style="left:556px;top:85px;font-size:17.5px;color:#2393ff;">Export CSV</div>
<div class="abs" style="left:679px;top:71px;width:200px;height:94px;border:1px solid #3e3e3e;border-radius:5px"></div>
<svg style="left:711px;top:84px" width="24" height="22" viewBox="0 0 24 22"><path d="M1.4 11 C4.5 4.6 8.5 2.8 12 2.8 S19.5 4.6 22.6 11 C19.5 17.4 15.5 19.2 12 19.2 S4.5 17.4 1.4 11 Z" fill="none" stroke="#1e90ff" stroke-width="1.9"/><circle cx="12" cy="11" r="4.3" fill="none" stroke="#1e90ff" stroke-width="1.9"/><circle cx="12.8" cy="10.2" r="1.5" fill="#1e90ff"/></svg>
<div class="t" style="left:740px;top:85px;font-size:17.5px;color:#2393ff;">Saved Views</div>
<div class="t" style="left:763px;top:134px;font-size:15.5px;color:#9c9c9c;">aasd</div>
<div class="t" style="left:80px;top:138px;font-size:17.5px;color:#f0f0f0;">11022973</div>
<div class="abs" style="left:32px;top:139px;width:40px;height:106px;background:#1e90ff;border-radius:4px"></div>
<svg style="left:44px;top:150px" width="17" height="15" viewBox="0 0 17 15"><path d="M1.6 1.8 H15.4 V13 H1.6 Z M6.2 2 V13 M10.8 2 V13" fill="none" stroke="#fff" stroke-width="1.9"/><path d="M1.6 2.2 H15.4" stroke="#fff" stroke-width="2.6"/></svg>
<div class="t" style="left:52px;top:174px;font-size:16px;color:#fff;transform-origin:0 0;transform:rotate(90deg) translate(0,-50%);">Columns</div>
<div class="t" style="left:89px;top:188px;font-size:17.5px;color:#f0f0f0;">Results</div>
<div class="cb" style="left:124px;top:247px"></div>
<div class="t" style="left:172px;top:249px;font-size:16px;color:#fff;font-weight:bold">Time</div>
<svg style="left:211px;top:247px" width="20" height="20" viewBox="0 0 20 20"><path d="M10 2.5 V16 M3.8 10 L10 16.4 L16.2 10" fill="none" stroke="#fff" stroke-width="1.9"/></svg>
<div class="t" style="left:421px;top:249px;font-size:16px;color:#fff;font-weight:bold">App</div>
<div class="t" style="left:664px;top:249px;font-size:16px;color:#fff;font-weight:bold">Actions</div>
<div class="abs" style="left:80px;top:282px;width:760px;height:1px;background:#4a4a4a"></div>
<svg style="left:98px;top:297px" width="20" height="20" viewBox="0 0 20 20"><path d="M6.3 3.6 L14.3 10.4 L6.3 17.2" fill="none" stroke="#f0f0f0" stroke-width="2"/></svg>
<div class="cb" style="left:124px;top:298px;width:20px;height:20px"></div>
<div class="t" style="left:172px;top:299px;font-size:17.5px;color:#f0f0f0;">2025-06-10 10:57:41</div>
<div class="t" style="left:422px;top:299px;font-size:17.5px;color:#f0f0f0;">domain</div>
<svg style="left:664px;top:298px" width="21" height="21" viewBox="0 0 21 21"><circle cx="10.5" cy="10.5" r="9.7" fill="#1e90ff"/><circle cx="10.6" cy="6.6" r="1.15" fill="#141c28"/><rect x="9.7" y="9.6" width="1.8" height="5" fill="#141c28"/></svg>
<svg style="left:98px;top:347px" width="20" height="20" viewBox="0 0 20 20"><path d="M6.3 3.6 L14.3 10.4 L6.3 17.2" fill="none" stroke="#f0f0f0" stroke-width="2"/></svg>
<div class="cb" style="left:124px;top:348px;width:20px;height:20px"></div>
<div class="t" style="left:172px;top:349px;font-size:17.5px;color:#f0f0f0;">2025-06-10 10:57:41</div>
<div class="t" style="left:422px;top:349px;font-size:17.5px;color:#f0f0f0;">domain</div>
<svg style="left:664px;top:348px" width="21" height="21" viewBox="0 0 21 21"><circle cx="10.5" cy="10.5" r="9.7" fill="#1e90ff"/><circle cx="10.6" cy="6.6" r="1.15" fill="#141c28"/><rect x="9.7" y="9.6" width="1.8" height="5" fill="#141c28"/></svg>
<svg style="left:98px;top:397px" width="20" height="20" viewBox="0 0 20 20"><path d="M6.3 3.6 L14.3 10.4 L6.3 17.2" fill="none" stroke="#f0f0f0" stroke-width="2"/></svg>
<div class="cb" style="left:124px;top:398px;width:20px;height:20px"></div>
<div class="t" style="left:172px;top:399px;font-size:17.5px;color:#f0f0f0;">2025-06-10 10:57:41</div>
<div class="t" style="left:422px;top:399px;font-size:17.5px;color:#f0f0f0;">domain</div>
<svg style="left:664px;top:398px" width="21" height="21" viewBox="0 0 21 21"><circle cx="10.5" cy="10.5" r="9.7" fill="#1e90ff"/><circle cx="10.6" cy="6.6" r="1.15" fill="#141c28"/><rect x="9.7" y="9.6" width="1.8" height="5" fill="#141c28"/></svg>
<svg style="left:98px;top:447px" width="20" height="20" viewBox="0 0 20 20"><path d="M6.3 3.6 L14.3 10.4 L6.3 17.2" fill="none" stroke="#f0f0f0" stroke-width="2"/></svg>
<div class="cb" style="left:124px;top:448px;width:20px;height:20px"></div>
<div class="t" style="left:172px;top:449px;font-size:17.5px;color:#f0f0f0;">2025-06-10 10:57:41</div>
<div class="t" style="left:422px;top:449px;font-size:17.5px;color:#f0f0f0;">domain</div>
<svg style="left:664px;top:448px" width="21" height="21" viewBox="0 0 21 21"><circle cx="10.5" cy="10.5" r="9.7" fill="#1e90ff"/><circle cx="10.6" cy="6.6" r="1.15" fill="#141c28"/><rect x="9.7" y="9.6" width="1.8" height="5" fill="#141c28"/></svg>
<svg style="left:98px;top:497px" width="20" height="20" viewBox="0 0 20 20"><path d="M6.3 3.6 L14.3 10.4 L6.3 17.2" fill="none" stroke="#f0f0f0" stroke-width="2"/></svg>
<div class="cb" style="left:124px;top:498px;width:20px;height:20px"></div>
<div class="t" style="left:172px;top:499px;font-size:17.5px;color:#f0f0f0;">2025-06-10 10:57:41</div>
<div class="t" style="left:422px;top:499px;font-size:17.5px;color:#f0f0f0;">domain</div>
<svg style="left:664px;top:498px" width="21" height="21" viewBox="0 0 21 21"><circle cx="10.5" cy="10.5" r="9.7" fill="#1e90ff"/><circle cx="10.6" cy="6.6" r="1.15" fill="#141c28"/><rect x="9.7" y="9.6" width="1.8" height="5" fill="#141c28"/></svg>
<svg style="left:98px;top:547px" width="20" height="20" viewBox="0 0 20 20"><path d="M6.3 3.6 L14.3 10.4 L6.3 17.2" fill="none" stroke="#f0f0f0" stroke-width="2"/></svg>
<div class="cb" style="left:124px;top:548px;width:20px;height:20px"></div>
<div class="t" style="left:172px;top:549px;font-size:17.5px;color:#f0f0f0;">2025-06-10 10:57:41</div>
<div class="t" style="left:422px;top:549px;font-size:17.5px;color:#f0f0f0;">domain</div>
<svg style="left:664px;top:548px" width="21" height="21" viewBox="0 0 21 21"><circle cx="10.5" cy="10.5" r="9.7" fill="#1e90ff"/><circle cx="10.6" cy="6.6" r="1.15" fill="#141c28"/><rect x="9.7" y="9.6" width="1.8" height="5" fill="#141c28"/></svg>
<svg style="left:98px;top:597px" width="20" height="20" viewBox="0 0 20 20"><path d="M6.3 3.6 L14.3 10.4 L6.3 17.2" fill="none" stroke="#f0f0f0" stroke-width="2"/></svg>
<div class="cb" style="left:124px;top:598px;width:20px;height:20px"></div>
<div class="t" style="left:172px;top:599px;font-size:17.5px;color:#f0f0f0;">2025-06-10 10:57:20</div>
<div class="t" style="left:422px;top:599px;font-size:17.5px;color:#f0f0f0;">netbios-dgm</div>
<svg style="left:664px;top:598px" width="21" height="21" viewBox="0 0 21 21"><circle cx="10.5" cy="10.5" r="9.7" fill="#1e90ff"/><circle cx="10.6" cy="6.6" r="1.15" fill="#141c28"/><rect x="9.7" y="9.6" width="1.8" height="5" fill="#141c28"/></svg>
<svg style="left:98px;top:647px" width="20" height="20" viewBox="0 0 20 20"><path d="M6.3 3.6 L14.3 10.4 L6.3 17.2" fill="none" stroke="#f0f0f0" stroke-width="2"/></svg>
<div class="cb" style="left:124px;top:648px;width:20px;height:20px"></div>
<div class="t" style="left:172px;top:649px;font-size:17.5px;color:#f0f0f0;">2025-06-10 10:57:16</div>
<div class="t" style="left:422px;top:649px;font-size:17.5px;color:#f0f0f0;">domain</div>
<svg style="left:664px;top:648px" width="21" height="21" viewBox="0 0 21 21"><circle cx="10.5" cy="10.5" r="9.7" fill="#1e90ff"/><circle cx="10.6" cy="6.6" r="1.15" fill="#141c28"/><rect x="9.7" y="9.6" width="1.8" height="5" fill="#141c28"/></svg>
</div>
</body></html>
